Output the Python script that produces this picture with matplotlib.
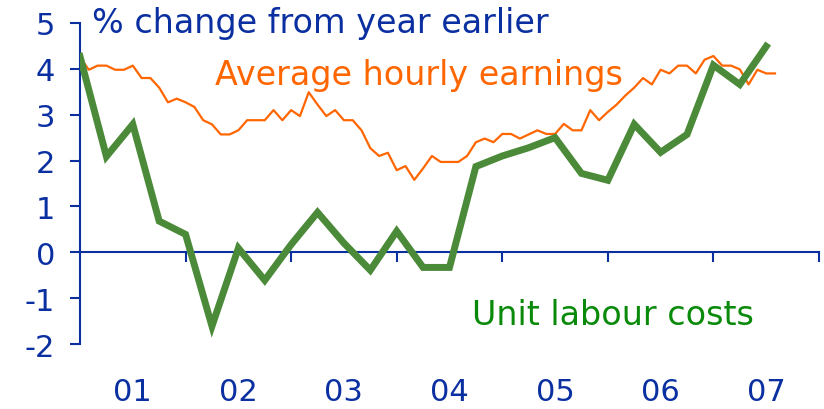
import matplotlib
matplotlib.use("Agg")
import matplotlib.pyplot as plt
import numpy as np

# average hourly earnings, monthly from Jan 2001 (% change on a year earlier)
earnings = [4.25, 3.98, 4.07, 4.07, 3.98, 3.98, 4.07, 3.80, 3.80, 3.59, 3.27, 3.35,
            3.27, 3.17, 2.88, 2.79, 2.57, 2.57, 2.66, 2.88, 2.88, 2.88, 3.10, 2.88,
            3.10, 2.97, 3.49, 3.22, 2.97, 3.10, 2.88, 2.88, 2.66, 2.27, 2.10, 2.17,
            1.79, 1.88, 1.58, 1.83, 2.10, 1.97, 1.97, 1.97, 2.10, 2.40, 2.48, 2.40,
            2.58, 2.58, 2.48, 2.57, 2.66, 2.58, 2.58, 2.80, 2.66, 2.66, 3.10, 2.88,
            3.06, 3.22, 3.42, 3.59, 3.80, 3.66, 3.98, 3.90, 4.07, 4.07, 3.90, 4.20,
            4.28, 4.07, 4.07, 3.99, 3.66, 3.98, 3.90, 3.90]

# unit labour costs, quarterly from 2001 Q1
ulc = [4.27, 2.09, 2.79, 0.68, 0.39, -1.61, 0.09, -0.61, 0.17, 0.87, 0.20, -0.39,
       0.46, -0.33, -0.33, 1.87, 2.10, 2.28, 2.50, 1.72, 1.57, 2.79, 2.18, 2.57,
       4.08, 3.66, 4.49]

year_labels = ['01', '02', '03', '04', '05', '06', '07']
y_ticks = [-2, -1, 0, 1, 2, 3, 4, 5]

blue = '#0a2fa0'
orange = '#ff6600'
green_line = '#4a8a38'
green_text = '#0a8a0a'

x_earn = 2001 + np.arange(len(earnings)) / 12
x_ulc = 2001 + np.arange(len(ulc)) / 4

plt.rcParams['font.family'] = ['DejaVu Sans']

fig = plt.figure(figsize=(8.24, 4.10), dpi=100)
ax = fig.add_axes([0.0971, 0.1585, 0.8968, 0.783])

ax.plot(x_earn, earnings, color=orange, lw=1.6, zorder=3)
ax.plot(x_ulc, ulc, color=green_line, lw=5, zorder=4, solid_joinstyle='miter')

ax.set_xlim(2001, 2008)
ax.set_ylim(-2, 5)

# spines
ax.spines['top'].set_visible(False)
ax.spines['right'].set_visible(False)
ax.spines['left'].set_color(blue)
ax.spines['left'].set_linewidth(1.5)
ax.spines['bottom'].set_position(('data', 0))
ax.spines['bottom'].set_color(blue)
ax.spines['bottom'].set_linewidth(1.5)
ax.spines['bottom'].set_zorder(2)

ax.set_yticks(y_ticks)
ax.set_yticklabels([str(v) for v in y_ticks])
ax.tick_params(axis='y', direction='out', length=7, width=1.5, color=blue,
               labelcolor=blue, labelsize=22, pad=11)

years = np.arange(2001, 2008)
ax.set_xticks(years[1:].tolist() + [2008])
ax.set_xticklabels([])
ax.set_xticks(years + 0.5, minor=True)
ax.set_xticklabels(year_labels, minor=True)
ax.tick_params(axis='x', which='major', direction='out', length=7, width=1.5, color=blue)
ax.tick_params(axis='x', which='minor', length=0, labelcolor=blue, labelsize=22, pad=90)

ax.text(2001.11, 5.0, '% change from year earlier', color=blue, fontsize=24,
        va='center', ha='left')
ax.text(2002.28, 3.88, 'Average hourly earnings', color=orange, fontsize=24,
        va='center', ha='left')
ax.text(2004.71, -1.35, 'Unit labour costs', color=green_text, fontsize=24,
        va='center', ha='left')

fig.savefig('out.png', dpi=100)
